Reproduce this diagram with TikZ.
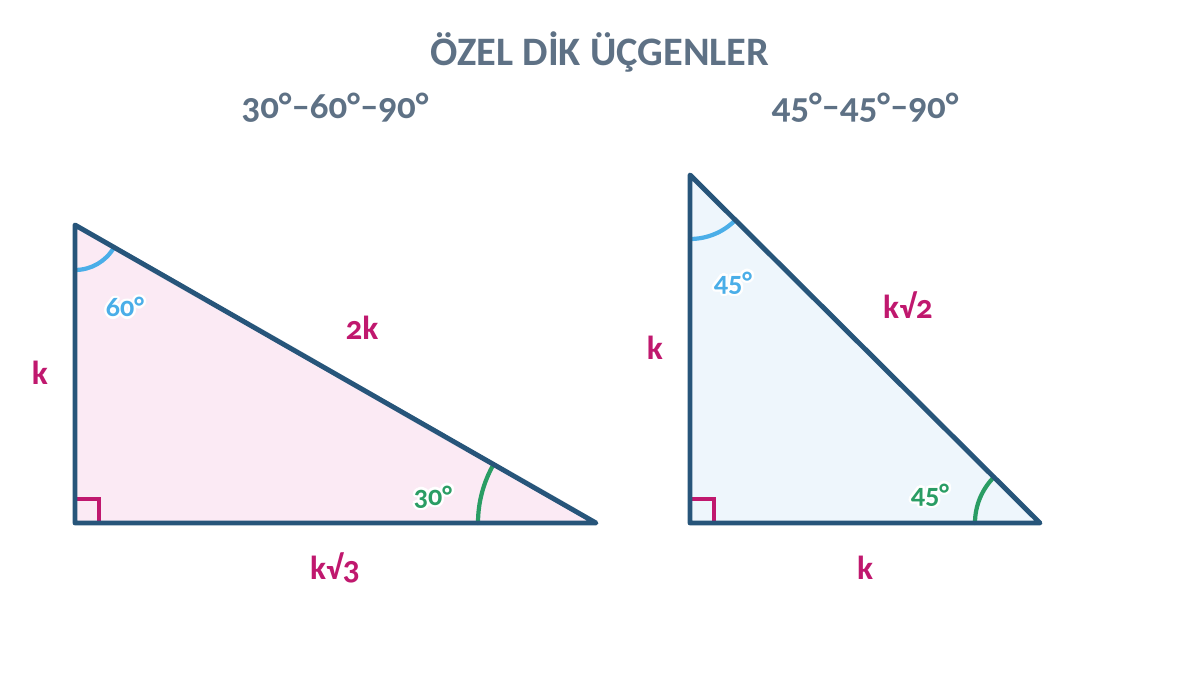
\documentclass[tikz,border=0pt]{standalone}
\usepackage{fontspec}
\setmainfont{Carlito}[Numbers=OldStyle]
\definecolor{edgeblue}{HTML}{27557A}
\definecolor{titlegrey}{HTML}{5E7185}
\definecolor{sidemag}{HTML}{C0186E}
\definecolor{angblue}{HTML}{4AAEE8}
\definecolor{anggreen}{HTML}{2A9D64}
\definecolor{pinkfill}{HTML}{FBEAF4}
\definecolor{bluefill}{HTML}{EEF6FC}
\tikzset{
  tri/.style={draw=edgeblue, line width=2.8pt, line join=round},
  rightmark/.style={draw=sidemag, line width=2pt},
  angarc/.style={line width=2.4pt, line cap=round},
  sidelabel/.style={text=sidemag, font=\bfseries\fontsize{19}{22}\selectfont},
  anglabel/.style={font=\bfseries\fontsize{16}{19}\selectfont},
  subtitle/.style={text=titlegrey, font=\bfseries\fontsize{21}{25}\selectfont},
}
% angle label with a white halo
\newcommand{\anglabelat}[4]{%
  \foreach \a in {0,30,...,330}
    \node[anglabel, text=white] at ([shift={(\a:2.5)}] #3) {#4};
  \node[anglabel, text=#1] (#2) at (#3) {#4};}
\begin{document}
\begin{tikzpicture}[x=0.02cm, y=0.02cm]
  \useasboundingbox (0,0) rectangle (1200,675);

  % 30-60-90
  \coordinate (A) at (75,152);
  \coordinate (B) at (75,450);
  \coordinate (C) at (596,152);
  \fill[pinkfill] (A) -- (B) -- (C) -- cycle;
  \draw[rightmark] ([xshift=0.48cm]A) -- ++(0,24) -- ++(-24,0);
  \draw[angarc, angblue] ([shift={(270:45)}]B) arc[start angle=270, end angle=330.2, radius=45];
  \draw[angarc, anggreen] ([shift={(180:118)}]C) arc[start angle=180, end angle=150.2, radius=118];
  \draw[tri] (A) -- (B) -- (C) -- cycle;

  % 45-45-90
  \coordinate (D) at (690,152);
  \coordinate (E) at (690,500);
  \coordinate (F) at (1040,152);
  \fill[bluefill] (D) -- (E) -- (F) -- cycle;
  \draw[rightmark] ([xshift=0.48cm]D) -- ++(0,24) -- ++(-24,0);
  \draw[angarc, angblue] ([shift={(270:64)}]E) arc[start angle=270, end angle=315, radius=64];
  \draw[angarc, anggreen] ([shift={(180:65)}]F) arc[start angle=180, end angle=135, radius=65];
  \draw[tri] (D) -- (E) -- (F) -- cycle;

  \anglabelat{angblue}{a60}{125,368}{60°}
  \anglabelat{anggreen}{a30}{433,178}{30°}
  \anglabelat{angblue}{a45top}{733,392}{45°}
  \anglabelat{anggreen}{a45bot}{930,180}{45°}

  \node[sidelabel] (sAB) at (40,302) {k};
  \node[sidelabel] (sBC) at (362,347) {2k};
  \node[sidelabel] (sAC) at (335,107) {k√3};
  \node[sidelabel] (sDE) at (655,327) {k};
  \node[sidelabel] (sEF) at (908,370) {k√2};
  \node[sidelabel] (sDF) at (865,107) {k};

  \node[text=titlegrey, font=\bfseries\fontsize{23}{27}\selectfont] (title) at (600,623) {ÖZEL DİK ÜÇGENLER};
  \node[subtitle] (sub1) at (335,567) {30°–60°–90°};
  \node[subtitle] (sub2) at (865,567) {45°–45°–90°};
\end{tikzpicture}
\end{document}
